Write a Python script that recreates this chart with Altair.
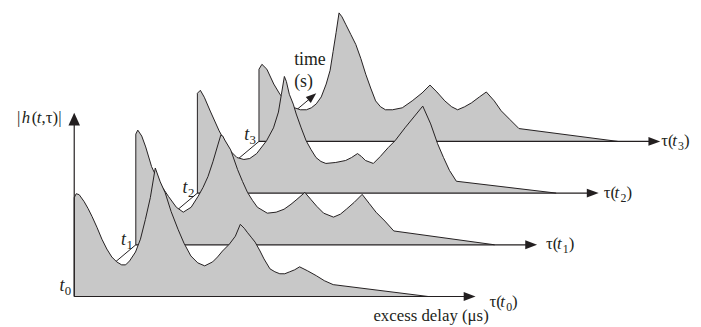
import math
import altair as alt
import pandas as pd

# ---------------- values ----------------
snapshots = ["0", "1", "2", "3"]          # t0 .. t3

tau_t0 = [0, 0, 2, 5, 10, 14, 18, 23, 28, 33, 38, 43, 48, 52, 56, 62, 67, 72, 77, 82,
          87, 92, 98, 105, 111, 118, 125, 132, 140, 145, 150, 157, 163, 168, 172, 175, 179, 183, 188, 192,
          198, 203, 208, 213, 218, 223, 228, 236, 245, 253, 262, 358]
h_t0 = [0, 100, 104, 103, 96, 89, 81, 70, 58, 48, 40, 35, 32, 32, 36, 45, 58, 78, 100, 130,
        116, 105, 86, 68, 54, 41, 34, 31, 35, 40, 46, 53, 61, 73, 69, 65, 60, 55, 46, 38,
        28, 25, 23, 23, 25, 27, 30, 26, 21, 16, 12, 0]

tau_t1 = [0, 0, 2, 6, 10, 16, 23, 33, 41, 48, 56, 63, 68, 73, 78, 83, 86, 88, 90, 96,
          103, 108, 113, 118, 123, 133, 142, 150, 157, 163, 171, 177, 183, 190, 200, 207, 213, 221, 229, 236,
          243, 252, 261, 363]
h_t1 = [0, 112, 116, 110, 99, 79, 64, 49, 38, 33, 38, 49, 58, 69, 84, 101, 111, 110, 106, 96,
        76, 64, 53, 45, 38, 32, 33, 36, 41, 46, 53, 46, 39, 32, 28, 31, 36, 43, 51, 42,
        33, 24, 14, 0]

tau_t2 = [0, 0, 3, 7, 13, 22, 28, 33, 40, 47, 53, 60, 70, 77, 82, 85, 88, 90, 93, 97,
          100, 105, 110, 115, 120, 125, 130, 140, 150, 156, 162, 166, 170, 178, 185, 193, 200, 210, 219, 228,
          236, 243, 249, 255, 262, 363]
h_t2 = [0, 101, 104, 97, 83, 63, 52, 43, 36, 34, 35, 40, 53, 66, 82, 100, 118, 113, 100, 90,
        80, 66, 53, 44, 36, 32, 30, 31, 33, 36, 40, 37, 33, 30, 37, 46, 53, 66, 77, 88,
        70, 50, 36, 23, 12, 0]

tau_t3 = [0, 0, 3, 8, 15, 21, 28, 36, 42, 48, 53, 58, 63, 68, 72, 75, 78, 81, 84, 88,
          93, 98, 103, 108, 113, 118, 123, 128, 135, 145, 155, 165, 173, 180, 188, 195, 201, 208, 215, 223,
          230, 238, 245, 254, 263, 363]
h_t3 = [0, 73, 78, 73, 58, 48, 39, 34, 32, 32, 34, 38, 45, 58, 72, 91, 110, 130, 126, 118,
        108, 98, 84, 68, 54, 41, 35, 32, 32, 34, 41, 49, 57, 50, 41, 35, 32, 35, 39, 45,
        50, 41, 31, 22, 13, 0]

taus = [tau_t0, tau_t1, tau_t2, tau_t3]
hs = [h_t0, h_t1, h_t2, h_t3]

# oblique "time" axis: shift applied to every later snapshot
step_tau = 62.3
step_h = 52.3
tau_axis_len = 406
h_axis_len = 186
time_axis_steps = 3.93

# ---------------- styling ----------------
FONT = "'Liberation Serif', 'Times New Roman', Times, serif"
INK = "#231f20"
GRAY = "#c8c8c8"
ARROW = "M0,0 L-2,-0.75 L-2,0.75 Z"
ARROW_V = "M0,0 L-2,-0.9 L-2,0.9 Z"

xs = alt.Scale(domain=[-67, 626], nice=False, zero=False)
ys = alt.Scale(domain=[-29, 290], nice=False, zero=False)


def X(f="X"):
    return alt.X(f"{f}:Q", scale=xs, axis=None)


def Y(f="Y"):
    return alt.Y(f"{f}:Q", scale=ys, axis=None)


def text(rows, size, style="normal", align="left"):
    df = pd.DataFrame(rows, columns=["X", "Y", "text"])
    return alt.Chart(df).mark_text(
        align=align, baseline="alphabetic", font=FONT, fontSize=size,
        fontStyle=style, color=INK
    ).encode(x=X(), y=Y(), text="text:N")


layers = []

# time axis (drawn first, hidden behind the profiles)
ang_rad = math.atan2(step_h, step_tau)
ux, uy = math.cos(ang_rad), math.sin(ang_rad)
tip_x, tip_y = time_axis_steps * step_tau, time_axis_steps * step_h
time_df = pd.DataFrame({"X": [0], "Y": [0], "X2": [tip_x - 6 * ux], "Y2": [tip_y - 6 * uy]})
layers.append(alt.Chart(time_df).mark_rule(color=INK, strokeWidth=1).encode(
    x=X(), y=Y(), x2="X2:Q", y2="Y2:Q"))
time_tip = pd.DataFrame({"X": [tip_x], "Y": [tip_y]})
layers.append(alt.Chart(time_tip).mark_point(
    shape=ARROW, size=110, filled=True, color=INK, strokeWidth=0, opacity=1,
    angle=360 - math.degrees(ang_rad)
).encode(x=X(), y=Y()))

# profiles, from the back (t3) to the front (t0)
for k in [3, 2, 1, 0]:
    base = k * step_h
    df = pd.DataFrame({
        "i": list(range(len(taus[k]))),
        "X": [t + k * step_tau for t in taus[k]],
        "Y": [v + base for v in hs[k]],
        "B": [base] * len(taus[k]),
    })
    layers.append(alt.Chart(df).mark_area(fill=GRAY, fillOpacity=1).encode(
        x=X(), y=Y(), y2=alt.Y2("B")))
    layers.append(alt.Chart(df).mark_line(color=INK, strokeWidth=1).encode(
        x=X(), y=Y(), order="i:Q"))
    ax = pd.DataFrame({"X": [k * step_tau], "X2": [k * step_tau + tau_axis_len - 6], "Y": [base]})
    layers.append(alt.Chart(ax).mark_rule(color=INK, strokeWidth=1.2).encode(
        x=X(), x2="X2:Q", y=Y()))
    tip = pd.DataFrame({"X": [k * step_tau + tau_axis_len], "Y": [base]})
    layers.append(alt.Chart(tip).mark_point(
        shape=ARROW, size=144, filled=True, color=INK, strokeWidth=0, opacity=1
    ).encode(x=X(), y=Y()))

# |h| axis
vax = pd.DataFrame({"X": [0], "Y": [0], "Y2": [h_axis_len - 6]})
layers.append(alt.Chart(vax).mark_rule(color=INK, strokeWidth=1.2).encode(x=X(), y=Y(), y2="Y2:Q"))
vtip = pd.DataFrame({"X": [0], "Y": [h_axis_len]})
layers.append(alt.Chart(vtip).mark_point(
    shape=ARROW_V, size=169, filled=True, color=INK, strokeWidth=0, opacity=1, angle=270
).encode(x=X(), y=Y()))

# ---------------- labels ----------------
t_dy = [6, 0, 0, 1]
t_rows, sub_rows = [], []
for k, s in enumerate(snapshots):
    t_rows.append([k * step_tau - 15, k * step_h + t_dy[k], "t"])
    sub_rows.append([k * step_tau - 9.5, k * step_h + t_dy[k] - 4, s])
layers.append(text(t_rows, 18, "italic"))
layers.append(text(sub_rows, 13))

lab_dx = [420, 415, 411, 407]
lab_dy = [-11, -4, -5, -5]
tau_rows, it_rows, s_rows, cl_rows = [], [], [], []
for k, s in enumerate(snapshots):
    x0 = k * step_tau + lab_dx[k]
    y0 = k * step_h + lab_dy[k]
    tau_rows.append([x0, y0, "τ("])
    it_rows.append([x0 + 11, y0, "t"])
    s_rows.append([x0 + 17, y0 - 4, s])
    cl_rows.append([x0 + 23, y0, ")"])
layers.append(text(tau_rows + cl_rows, 17))
layers.append(text(it_rows, 17, "italic"))
layers.append(text(s_rows, 12))

layers.append(text([[-58, 176, "|"], [-43, 176, "("], [-33, 176, ",τ)|"]], 17))
layers.append(text([[-53, 176, "h"], [-38, 176, "t"]], 17, "italic"))

layers.append(text([[222.5, 234, "time"], [222.5, 212, "(s)"]], 18))

layers.append(text([[361, -25, "excess delay (μs)"]], 17, align="center"))

chart = alt.layer(*layers).properties(
    width=693, height=319,
    autosize=alt.AutoSizeParams(type="none"),
    padding=0,
).configure_view(stroke=None)

chart.save("out.html", embed_options={"renderer": "svg", "actions": False})
